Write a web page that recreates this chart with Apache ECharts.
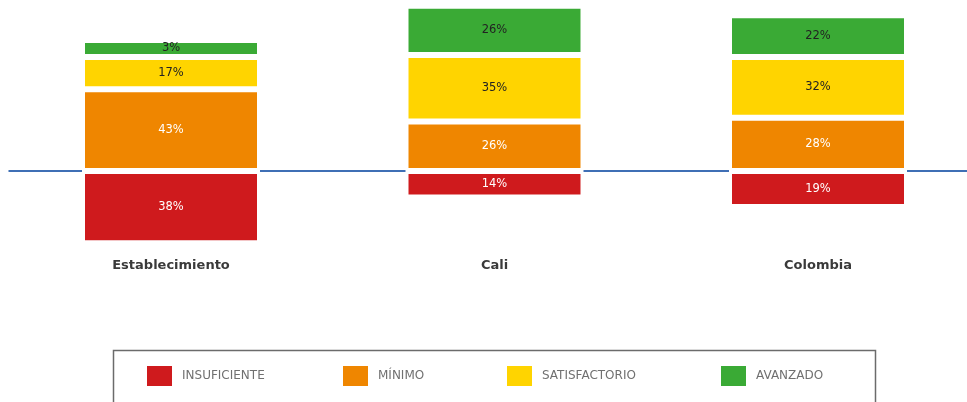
<!DOCTYPE html>
<html>
<head>
<meta charset="utf-8">
<script src="https://cdn.jsdelivr.net/npm/echarts@6/dist/echarts.min.js"></script>
<style>html,body{margin:0;padding:0;background:#fff}#c{width:967px;height:402px}</style>
</head>
<body>
<div id="c"></div>
<script>
var categories = ['Establecimiento', 'Cali', 'Colombia'];
var insuficiente = [38, 14, 19];
var minimo = [43, 26, 28];
var satisfactorio = [17, 35, 32];
var avanzado = [3, 26, 22];
var seriesNames = ['INSUFICIENTE', 'MÍNIMO', 'SATISFACTORIO', 'AVANZADO'];
var colors = ['#cf1a1d', '#ef8600', '#ffd400', '#3aaa35'];

var chart = echarts.init(document.getElementById('c'), null, {renderer: 'canvas'});
var FONT = '"DejaVu Sans", "Noto Sans", sans-serif';

function mk(name, data, color, labelColor, minH) {
  return {
    name: name, type: 'bar', stack: 'total', data: data,
    barWidth: 178, xAxisIndex: 0, barMinHeight: minH || 0,
    itemStyle: {color: color, borderColor: '#fff', borderWidth: 3},
    label: {show: true, position: 'inside', color: labelColor, fontSize: 11.5, fontFamily: FONT,
      formatter: function (p) { return Math.abs(p.value) + '%'; }},
    emphasis: {disabled: true}
  };
}

var legendLefts = [147, 343, 507, 721];
var legends = seriesNames.map(function (n, i) {
  return {
    data: [n], left: legendLefts[i], top: 366, itemWidth: 25, itemHeight: 20, itemGap: 10,
    padding: 0, icon: 'rect',
    itemStyle: {borderWidth: 0},
    textStyle: {color: '#707070', fontSize: 12, fontFamily: FONT, padding: [0, 0, 0, 5]},
    selectedMode: false
  };
});

chart.setOption({
  animation: false,
  color: colors,
  grid: {left: 9.25, width: 970.5, top: 0, height: 247, outerBoundsMode: 'none', containLabel: false},
  xAxis: [{
    type: 'category', data: categories, position: 'bottom',
    axisLine: {show: true, onZero: true, lineStyle: {color: '#3f6fb5', width: 2}},
    axisTick: {show: false}, axisLabel: {show: false}, z: 0
  }, {
    type: 'category', data: categories, position: 'bottom',
    axisLine: {show: false}, axisTick: {show: false},
    axisLabel: {show: true, color: '#3a3a3a', fontSize: 13, fontWeight: 'bold', fontFamily: FONT, margin: 12}
  }],
  yAxis: {type: 'value', min: -40, max: 90, show: false, splitLine: {show: false}},
  legend: legends,
  graphic: [{
    type: 'rect', shape: {x: 113.5, y: 350.5, width: 762, height: 70},
    style: {fill: 'none', stroke: '#6b6b6b', lineWidth: 1.5}, silent: true
  }],
  series: [
    mk(seriesNames[0], insuficiente.map(function (v) { return -v; }), colors[0], '#fff'),
    mk(seriesNames[1], minimo, colors[1], '#fff'),
    mk(seriesNames[2], satisfactorio, colors[2], '#222'),
    mk(seriesNames[3], avanzado, colors[3], '#222', 17)
  ]
});
</script>
</body>
</html>
